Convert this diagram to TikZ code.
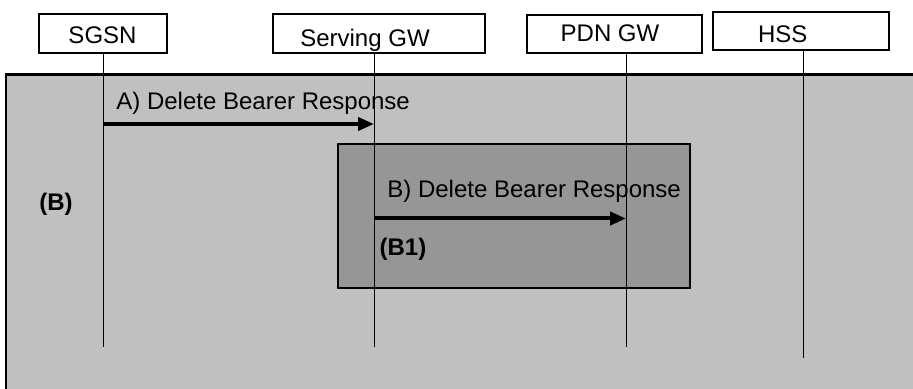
\documentclass[tikz,border=0pt]{standalone}
\usepackage{fontspec}
\setmainfont{Liberation Sans}
\usetikzlibrary{arrows.meta}
\definecolor{AreaGray}{HTML}{C0C0C0}
\definecolor{InnerGray}{HTML}{969696}

\begin{document}
\begin{tikzpicture}[x=0.5pt,y=-0.5pt,>={Triangle[length=8pt,width=6.5pt]},
  entity/.style={draw,line width=1pt,fill=white,inner sep=0pt,text depth=0pt,
    font=\fontsize{12}{14}\selectfont},
  area/.style={draw,line width=1.3pt,inner sep=0pt},
  lifeline/.style={line width=0.5pt},
  msg/.style={->,line width=2pt},
  msgtext/.style={anchor=base west,inner sep=0pt,font=\fontsize{12}{14}\selectfont},
  tag/.style={inner sep=0pt,font=\fontsize{12}{14}\selectfont\bfseries}]
  \useasboundingbox (0,0) rectangle (913,389);
  \clip (0,0) rectangle (913,389);
  % procedure areas
  \node[area,fill=AreaGray,minimum width=462pt,minimum height=162.75pt] (barea) at (468,237.25) {};
  \node[area,fill=InnerGray,line width=1pt,minimum width=176.25pt,minimum height=72pt] (b1area) at (513.75,216) {};
  % entities
  \node[entity,text height=10.2pt,minimum width=64pt,minimum height=19.25pt] (sgsn) at (102.5,33.75) {SGSN};
  \node[entity,text height=12.6pt,minimum width=106pt,minimum height=19.25pt] (sgw) at (379,33.75) {\hspace*{-14pt}Serving GW};
  \node[entity,text height=6.6pt,minimum width=87.5pt,minimum height=19pt] (pgw) at (614,34.5) {\hspace*{-4pt}PDN GW};
  \node[entity,text height=10.8pt,minimum width=87.75pt,minimum height=19.25pt] (hss) at (800.75,31.25) {\hspace*{-18pt}HSS};
  % lifelines
  \coordinate (sgsn-end) at (103,347);
  \coordinate (sgw-end) at (374,347);
  \coordinate (pgw-end) at (626,347);
  \coordinate (hss-end) at (803,358);
  \draw[lifeline] (sgsn-end |- sgsn.south) -- (sgsn-end);
  \draw[lifeline] (sgw-end |- sgw.south) -- (sgw-end);
  \draw[lifeline] (pgw-end |- pgw.south) -- (pgw-end);
  \draw[lifeline] (hss-end |- hss.south) -- (hss-end);
  % messages
  \coordinate (msgA) at (0,124);
  \coordinate (msgB) at (0,218.5);
  \draw[msg] (sgsn-end |- msgA) -- (sgw-end |- msgA);
  \draw[msg] (sgw-end |- msgB) -- (pgw-end |- msgB);
  \node[msgtext] (msgAtext) at (116,110) {A) Delete Bearer Response};
  \node[msgtext] (msgBtext) at (387,198) {B) Delete Bearer Response};
  \node[tag] (btag) at (56,204) {(B)};
  \node[tag] (b1tag) at (403,249) {(B1)};
\end{tikzpicture}
\end{document}
